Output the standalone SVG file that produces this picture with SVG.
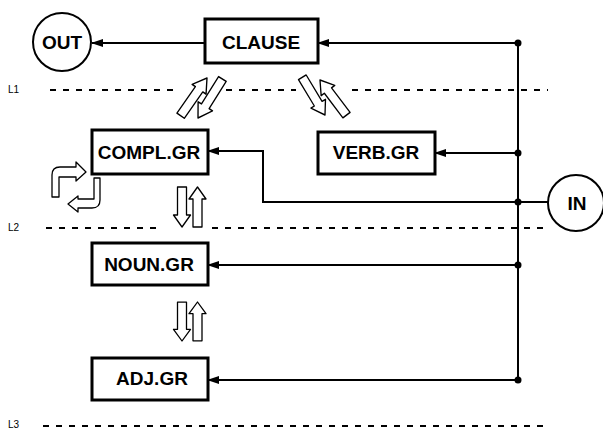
<svg xmlns="http://www.w3.org/2000/svg" width="603" height="430" viewBox="0 0 603 430">
<style>
.box{fill:#fff;stroke:#000;stroke-width:3}
.circ{fill:#fff;stroke:#000;stroke-width:2}
.lbl{font-family:"Liberation Sans",Arial,sans-serif;font-weight:bold;font-size:19px;fill:#000;text-anchor:middle}
.lvl{font-family:"Liberation Sans",Arial,sans-serif;font-size:10px;fill:#000}
.con{fill:none;stroke:#000;stroke-width:2}
.dash{fill:none;stroke:#000;stroke-width:2;stroke-dasharray:6 7}
.ha{fill:#fff;stroke:#000;stroke-width:1.3;stroke-linejoin:round}
</style>
<defs>
<marker id="ah" markerWidth="12" markerHeight="8" refX="11" refY="4" orient="auto" markerUnits="userSpaceOnUse">
<path d="M0,0 L12,4 L0,8 Z" fill="#000"/>
</marker>
<path id="harrow" d="M0,0 L8.5,12 L4.5,12 L4.5,40 L-4.5,40 L-4.5,12 L-8.5,12 Z"/>
</defs>

<g id="levels">
<text class="lvl" x="8" y="93">L1</text>
<text class="lvl" x="8" y="231">L2</text>
<text class="lvl" x="8" y="428">L3</text>
<path class="dash" d="M50,90 H178 M226,90 H296 M352,90 H548"/>
<path class="dash" d="M46,228 H160 M212,228 H547"/>
<path class="dash" d="M43,426 H547"/>
</g>

<g id="connectors">
<path class="con" d="M204,43 H92" marker-end="url(#ah)"/>
<path class="con" d="M518,43 H318" marker-end="url(#ah)"/>
<path class="con" d="M518,43 V380"/>
<path class="con" d="M518,153 H435" marker-end="url(#ah)"/>
<path class="con" d="M548,202 H263 V151 H208" marker-end="url(#ah)"/>
<path class="con" d="M518,265 H208" marker-end="url(#ah)"/>
<path class="con" d="M518,380 H208" marker-end="url(#ah)"/>
<circle cx="518" cy="43" r="3.5"/>
<circle cx="518" cy="153" r="3.5"/>
<circle cx="518" cy="202" r="3.5"/>
<circle cx="518" cy="265" r="3.5"/>
<circle cx="518" cy="380" r="3.5"/>
</g>

<g id="transfer-arrows">
<use href="#harrow" class="ha" transform="translate(207,78) rotate(35) scale(1,1.15)"/>
<use href="#harrow" class="ha" transform="translate(198,118) rotate(-148) scale(1,1.15)"/>
<use href="#harrow" class="ha" transform="translate(325,115) rotate(149) scale(1,1.1)"/>
<use href="#harrow" class="ha" transform="translate(320,80) rotate(-37) scale(1,1.1)"/>
<use href="#harrow" class="ha" transform="translate(182,227) rotate(180)"/>
<use href="#harrow" class="ha" transform="translate(197.5,187)"/>
<use href="#harrow" class="ha" transform="translate(182,341) rotate(180) scale(1,0.97)"/>
<use href="#harrow" class="ha" transform="translate(197.5,302) scale(1,0.97)"/>
<path class="ha" d="M52,197 L52,175 Q52,167 60,167 L76,167 L76,162 L86,172 L76,181 L76,177 L59,177 L59,197 Z"/>
<path class="ha" d="M100,178 L100,200 Q100,208 92,208 L78,208 L78,212 L68,204 L78,196 L78,199 L94,199 L94,178 Z"/>
</g>

<g id="OUT">
<circle class="circ" cx="62" cy="42" r="29"/>
<text class="lbl" x="62" y="49">OUT</text>
</g>
<g id="CLAUSE">
<rect class="box" x="205" y="19" width="113" height="44"/>
<text class="lbl" x="261" y="49">CLAUSE</text>
</g>
<g id="COMPL.GR">
<rect class="box" x="92" y="130" width="116" height="44"/>
<text class="lbl" x="149" y="159">COMPL.GR</text>
</g>
<g id="VERB.GR">
<rect class="box" x="318" y="132" width="117" height="42"/>
<text class="lbl" x="376" y="159">VERB.GR</text>
</g>
<g id="IN">
<circle class="circ" cx="576" cy="203" r="28"/>
<text class="lbl" x="577" y="210">IN</text>
</g>
<g id="NOUN.GR">
<rect class="box" x="92" y="243" width="116" height="42"/>
<text class="lbl" x="149" y="271">NOUN.GR</text>
</g>
<g id="ADJ.GR">
<rect class="box" x="92" y="358" width="116" height="42"/>
<text class="lbl" x="152" y="385">ADJ.GR</text>
</g>
</svg>
